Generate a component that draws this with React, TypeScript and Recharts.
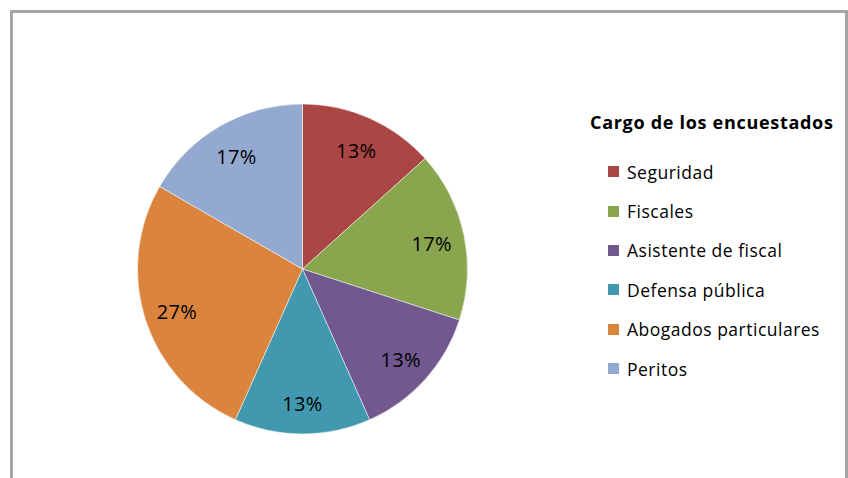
import { PieChart, Pie, Cell, Legend } from "recharts";

const cargos = [
  "Seguridad",
  "Fiscales",
  "Asistente de fiscal",
  "Defensa pública",
  "Abogados particulares",
  "Peritos",
];
const encuestados = [4, 5, 4, 4, 8, 5];
const colores = ["#AA4643", "#89A54E", "#71588F", "#4198AF", "#DB843D", "#93A9CF"];

const data = cargos.map((name, i) => ({ name, value: encuestados[i] }));

const FONT = "'Open Sans', sans-serif";
const RAD = Math.PI / 180;

const renderLabel = (p: any) => {
  const r = p.outerRadius * 0.8;
  const x = p.cx + r * Math.cos(-p.midAngle * RAD);
  const y = p.cy + r * Math.sin(-p.midAngle * RAD);
  return (
    <text
      x={x}
      y={y + 2}
      textAnchor="middle"
      dominantBaseline="central"
      fill="#000"
      fontSize={20}
      letterSpacing={0.3}
      fontFamily={FONT}
    >
      {`${Math.round(p.percent * 100)}%`}
    </text>
  );
};

// legend keeps the original series order (recharts sorts its payload)
const renderLegend = () => (
  <div style={{ fontFamily: FONT, color: "#000" }}>
    <div
      style={{ fontWeight: 700, fontSize: 18, letterSpacing: 0.7, lineHeight: "28px" }}
    >
      Cargo de los encuestados
    </div>
    <div style={{ marginTop: 16 }}>
      {cargos.map((c, i) => (
        <div
          key={c}
          style={{ display: "flex", alignItems: "center", height: 39.4, paddingLeft: 18 }}
        >
          <span
            style={{ width: 11, height: 11, background: colores[i], marginRight: 8 }}
          />
          <span style={{ fontSize: 17.5, letterSpacing: 0.5 }}>{c}</span>
        </div>
      ))}
    </div>
  </div>
);

export default function App() {
  return (
    <div
      style={{
        position: "absolute",
        left: 0,
        top: 0,
        width: 848,
        height: 478,
        overflow: "hidden",
        background: "#fff",
      }}
    >
      <div
        style={{
          position: "absolute",
          left: 10,
          top: 10,
          width: 838,
          height: 500,
          border: "3px solid #a6a6a6",
          boxSizing: "border-box",
        }}
      />
      <PieChart width={848} height={478} margin={{ top: 0, right: 0, bottom: 0, left: 0 }}>
        <Pie
          data={data}
          dataKey="value"
          nameKey="name"
          cx={302.5}
          cy={269}
          outerRadius={165}
          startAngle={90}
          endAngle={-270}
          stroke="#fff"
          strokeWidth={0.5}
          label={renderLabel}
          labelLine={false}
          isAnimationActive={false}
        >
          {data.map((d, i) => (
            <Cell key={d.name} fill={colores[i]} />
          ))}
        </Pie>
        <Legend
          content={renderLegend}
          wrapperStyle={{ left: 590, top: 108, width: 258 }}
        />
      </PieChart>
    </div>
  );
}
